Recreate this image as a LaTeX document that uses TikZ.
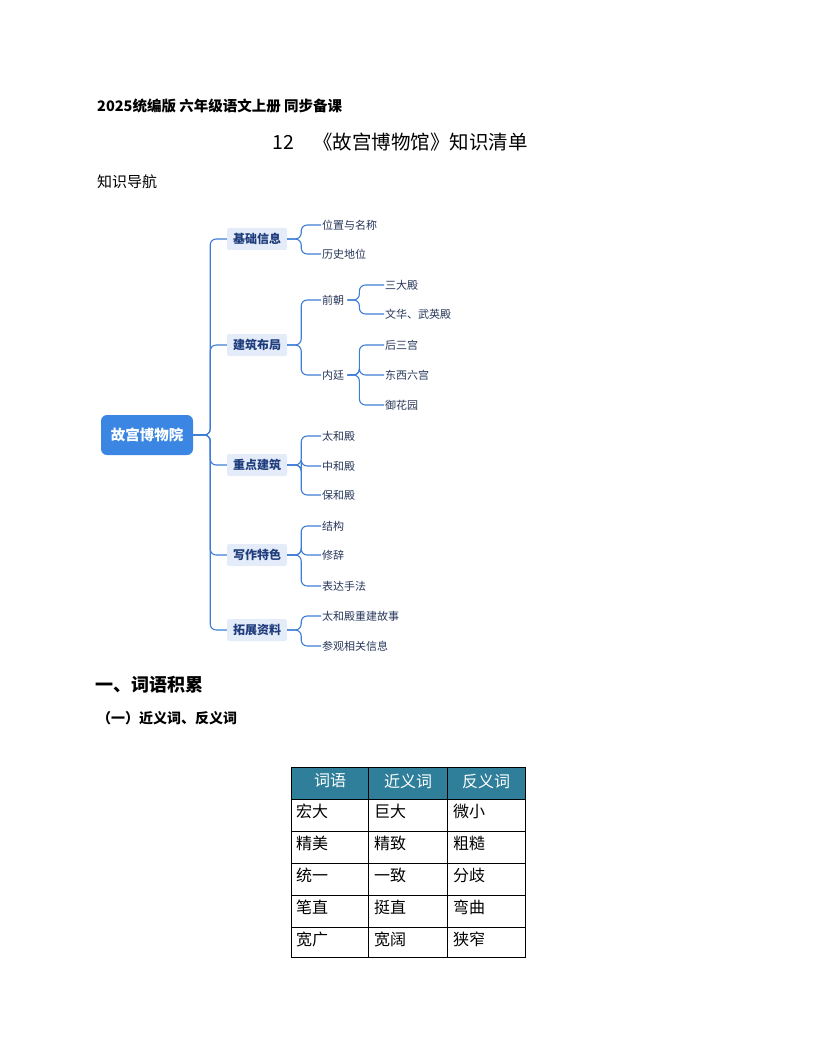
\documentclass[tikz,border=0pt]{standalone}
\usepackage{fontspec}
\setmainfont{Noto Sans CJK SC}
\begin{document}
\begin{tikzpicture}[x=1pt,y=-1pt,
  root/.style={fill=rootblue,rounded corners=6pt,text=white,font=\fontsize{14.5}{16}\selectfont\bfseries,minimum width=92pt,minimum height=40pt,inner sep=0pt},
  br/.style={fill=brfill,rounded corners=2pt,text=brtext,font=\fontsize{12}{13}\selectfont\bfseries,minimum width=60pt,minimum height=22pt,inner sep=0pt},
  lf/.style={anchor=west,text=leaftext,font=\fontsize{11}{12}\selectfont,inner sep=1pt},
  con/.style={draw=linkblue,line width=1.1pt,rounded corners=6pt},
  cell/.style={anchor=west,font=\fontsize{16}{18}\selectfont,inner sep=0pt},
  hcell/.style={font=\fontsize{16}{18}\selectfont,text=white,inner sep=0pt}]
\definecolor{rootblue}{HTML}{3A86E2}
\definecolor{brfill}{HTML}{E4ECF9}
\definecolor{brtext}{HTML}{1E3C7C}
\definecolor{leaftext}{HTML}{27365A}
\definecolor{linkblue}{HTML}{3F7ED6}
\definecolor{thead}{HTML}{2F7F9A}
\useasboundingbox (0,0) rectangle (816,1056);
\node[anchor=west,font=\fontsize{14.5}{16}\selectfont\bfseries,inner sep=0pt] (hdr) at (97,106) {2025统编版\ 六年级语文上册\ 同步备课};
\node[font=\fontsize{19.5}{22}\selectfont] (title) at (400,142) {12\quad《故宫博物馆》知识清单};
\node[anchor=west,font=\fontsize{15}{17}\selectfont,inner sep=0pt] (nav) at (97,182) {知识导航};

\node[root] (r) at (147,435) {故宫博物院};
\node[br] (b1) at (257,239) {基础信息};
\node[br] (b2) at (257,345) {建筑布局};
\node[br] (b3) at (257,465) {重点建筑};
\node[br] (b4) at (257,555) {写作特色};
\node[br] (b5) at (257,630) {拓展资料};
\foreach \b in {b1,b2,b3,b4,b5}{\draw[con] (r.east) -- ++(17,0) |- (\b.west);}

\node[lf] (l11) at (321,225) {位置与名称};
\node[lf] (l12) at (321,254) {历史地位};
\node[lf] (l21) at (321,300) {前朝};
\node[lf] (l22) at (321,375) {内廷};
\node[lf] (l211) at (384,285) {三大殿};
\node[lf] (l212) at (384,314) {文华、武英殿};
\node[lf] (l221) at (384,345) {后三宫};
\node[lf] (l222) at (384,375) {东西六宫};
\node[lf] (l223) at (384,405) {御花园};
\node[lf] (l31) at (321,436) {太和殿};
\node[lf] (l32) at (321,466) {中和殿};
\node[lf] (l33) at (321,495) {保和殿};
\node[lf] (l41) at (321,526) {结构};
\node[lf] (l42) at (321,555) {修辞};
\node[lf] (l43) at (321,586) {表达手法};
\node[lf] (l51) at (321,616) {太和殿重建故事};
\node[lf] (l52) at (321,646) {参观相关信息};
\foreach \a/\c in {b1/l11,b1/l12,b2/l21,b2/l22,b3/l31,b3/l32,b3/l33,b4/l41,b4/l42,b4/l43,b5/l51,b5/l52}{\draw[con] (\a.east) -- ++(14,0) |- (\c.west);}
\foreach \a/\c in {l21/l211,l21/l212,l22/l221,l22/l222,l22/l223}{\draw[con] (\a.east) ++(2,0) -- ++(12,0) |- (\c.west);}

\node[anchor=west,font=\fontsize{18}{20}\selectfont\bfseries,inner sep=0pt] (s1) at (95,685) {一、词语积累};
\node[anchor=west,font=\fontsize{14}{16}\selectfont\bfseries,inner sep=0pt] (s2) at (97,718) {（一）近义词、反义词};

\fill[thead] (291,767) rectangle (525,799);
\draw[line width=0.8pt] (291,767) rectangle (525,957);
\foreach \y in {799,831,863,895,927}{\draw[line width=0.8pt] (291,\y) -- (525,\y);}
\foreach \x in {368,447}{\draw[line width=0.8pt] (\x,767) -- (\x,957);}
\node[hcell] (h1) at (330,781) {词语};
\node[hcell] (h2) at (408,781) {近义词};
\node[hcell] (h3) at (486,781) {反义词};
\foreach \i/\a/\b/\c in {0/宏大/巨大/微小,1/精美/精致/粗糙,2/统一/一致/分歧,3/笔直/挺直/弯曲,4/宽广/宽阔/狭窄}{
  \node[cell] (c\i a) at (296,811+32*\i) {\a};
  \node[cell] (c\i b) at (374,811+32*\i) {\b};
  \node[cell] (c\i c) at (453,811+32*\i) {\c};
}
\end{tikzpicture}
\end{document}
